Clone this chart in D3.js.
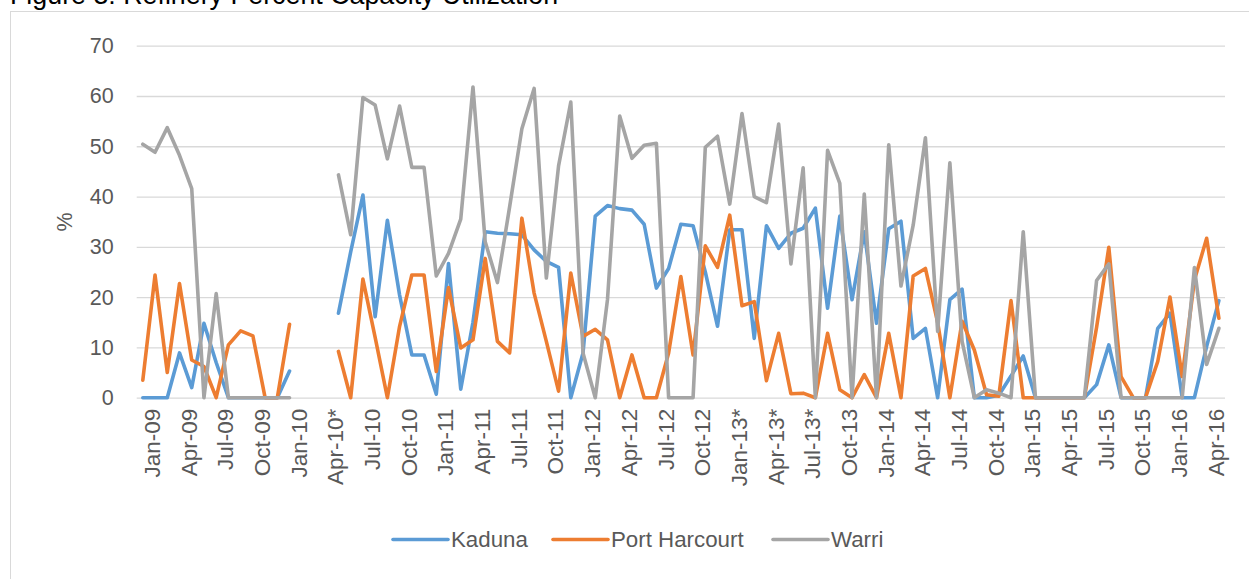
<!DOCTYPE html>
<html>
<head>
<meta charset="utf-8">
<script src="https://cdnjs.cloudflare.com/ajax/libs/d3/7.8.5/d3.min.js"></script>
<style>
  html, body { margin: 0; padding: 0; background: #fff; }
  svg { display: block; }
  text { font-family: "Liberation Sans", Arial, sans-serif; }
</style>
</head>
<body>
<svg id="chart" width="1249" height="579"></svg>
<script>
// ---- data ----
const categories = [
  "Jan-09","Feb-09","Mar-09","Apr-09","May-09","Jun-09","Jul-09","Aug-09","Sep-09","Oct-09","Nov-09","Dec-09",
  "Jan-10","Feb-10","Mar-10","Apr-10*","May-10","Jun-10","Jul-10","Aug-10","Sep-10","Oct-10","Nov-10","Dec-10",
  "Jan-11","Feb-11","Mar-11","Apr-11","May-11","Jun-11","Jul-11","Aug-11","Sep-11","Oct-11","Nov-11","Dec-11",
  "Jan-12","Feb-12","Mar-12","Apr-12","May-12","Jun-12","Jul-12","Aug-12","Sep-12","Oct-12","Nov-12","Dec-12",
  "Jan-13*","Feb-13*","Mar-13*","Apr-13*","May-13*","Jun-13*","Jul-13*","Aug-13","Sep-13","Oct-13","Nov-13","Dec-13",
  "Jan-14","Feb-14","Mar-14","Apr-14","May-14","Jun-14","Jul-14","Aug-14","Sep-14","Oct-14","Nov-14","Dec-14",
  "Jan-15","Feb-15","Mar-15","Apr-15","May-15","Jun-15","Jul-15","Aug-15","Sep-15","Oct-15","Nov-15","Dec-15",
  "Jan-16","Feb-16","Mar-16","Apr-16","May-16"
];

const kaduna = [
  0,0,0,8.9,2.0,14.8,7,0,0,0,0,0,
  5.3,null,null,null,16.8,29,40.3,16.1,35.3,20.4,8.5,8.5,
  0.7,26.7,1.7,15,33.0,32.7,32.6,32.4,29.4,27.1,25.9,0,
  8.9,36.1,38.2,37.6,37.3,34.5,21.8,25.7,34.5,34.2,25,14.2,
  33.4,33.4,11.8,34.2,29.7,32.7,33.7,37.7,17.8,36.1,19.5,33.0,
  14.8,33.6,35.1,11.8,13.8,0,19.5,21.6,0,0,0.5,4.3,
  8.3,0,0,0,0,0,2.6,10.5,0,0,0,13.8,
  16.8,0,0,10.2,19.3
];

const portHarcourt = [
  3.5,24.4,5.0,22.7,7.5,6.2,0,10.5,13.3,12.3,0,0,
  14.6,null,null,null,9.2,0,23.6,12,0,14.2,24.4,24.4,
  5.2,21.9,9.9,11.5,27.7,11.2,8.9,35.7,20.8,11.2,1.3,24.8,
  12.2,13.6,11.5,0,8.5,0,0,8.9,24.1,8.5,30.2,25.9,
  36.3,18.3,19.1,3.4,12.8,0.8,0.9,0,12.8,1.6,0,4.6,
  0,12.8,0,24.2,25.7,15,0,15.2,9.5,0.6,0.3,19.3,
  0,0,0,0,0,0,14,29.9,4.2,0,0,7.2,
  20.0,4.2,23.4,31.7,15.8
];

const warri = [
  50.4,48.8,53.7,48.2,41.6,0,20.7,0,0,0,0,0,
  0,null,null,null,44.3,32.4,59.7,58.2,47.5,58.0,45.8,45.8,
  24.2,28.7,35.5,61.8,31,22.9,38,53.5,61.5,23.8,46.1,58.8,
  8.9,0,19.5,56.0,47.6,50.2,50.6,0,0,0,49.8,52.0,
  38.5,56.5,40.0,38.8,54.4,26.6,45.7,0,49.2,42.6,0,40.5,
  0,50.3,22.2,34.3,51.7,13.2,46.7,11.2,0,1.6,0.9,0,
  33.0,0,0,0,0,0,23.3,26.6,0,0,0,0,
  0,0,25.9,6.6,13.8
];

const seriesNames = ["Kaduna", "Port Harcourt", "Warri"];
const seriesColors = ["#5B9BD5", "#ED7D31", "#A5A5A5"];
const yTicks = [0, 10, 20, 30, 40, 50, 60, 70];
const tickEvery = 3;

// ---- layout ----
const svg = d3.select("#chart");
const W = 1249, H = 579;
const plot = { left: 136.7, right: 1225, top: 45.7, bottom: 397.7 };
const textColor = "#595959";

// chart border
svg.append("rect")
  .attr("x", 10.5).attr("y", 11.5)
  .attr("width", W).attr("height", H)
  .attr("fill", "none").attr("stroke", "#D9D9D9").attr("stroke-width", 1);

// title (cut off at top as in reference)
svg.append("text")
  .attr("x", 10).attr("y", 4)
  .attr("font-size", 26.8)
  .attr("fill", "#000")
  .text("Figure 3: Refinery Percent Capacity Utilization");

const x = d3.scalePoint()
  .domain(d3.range(categories.length))
  .range([plot.left, plot.right])
  .padding(0.5);

const y = d3.scaleLinear()
  .domain([0, 70])
  .range([plot.bottom, plot.top]);

// gridlines + y labels
const yAxis = d3.axisLeft(y)
  .tickValues(yTicks)
  .tickSize(-(plot.right - plot.left))
  .tickPadding(23)
  .tickFormat(d3.format("d"));

const gy = svg.append("g")
  .attr("transform", `translate(${plot.left},0)`)
  .call(yAxis);
gy.select(".domain").remove();
gy.selectAll(".tick line").attr("stroke", "#D9D9D9").attr("stroke-width", 1.3);
gy.selectAll(".tick text")
  .attr("fill", textColor)
  .attr("font-size", 21.5)
  .attr("font-family", "Liberation Sans, Arial, sans-serif");

// y axis title
svg.append("text")
  .attr("transform", `translate(72,222) rotate(-90)`)
  .attr("text-anchor", "middle")
  .attr("fill", textColor)
  .attr("font-size", 21.5)
  .text("%");

// x axis labels
const xAxis = d3.axisBottom(x)
  .tickValues(d3.range(0, categories.length, tickEvery))
  .tickSize(0)
  .tickFormat(i => categories[i]);

const gx = svg.append("g")
  .attr("transform", `translate(0,${plot.bottom})`)
  .call(xAxis);
gx.select(".domain").remove();
gx.selectAll(".tick text")
  .attr("fill", textColor)
  .attr("font-size", 22.5)
  .attr("font-family", "Liberation Sans, Arial, sans-serif")
  .attr("text-anchor", "end")
  .attr("transform", "translate(0,11) rotate(-90)")
  .attr("x", 0)
  .attr("y", 0)
  .attr("dy", "0.74em")
  .attr("dx", 0);

// lines
const line = d3.line()
  .defined(d => d != null)
  .x((d, i) => x(i))
  .y(d => y(d));

const allSeries = [kaduna, portHarcourt, warri];
svg.append("g").selectAll("path")
  .data(allSeries)
  .join("path")
  .attr("d", d => line(d))
  .attr("fill", "none")
  .attr("stroke", (d, i) => seriesColors[i])
  .attr("stroke-width", 3.6)
  .attr("stroke-linejoin", "round")
  .attr("stroke-linecap", "round");

// legend
const legendX = [393, 553, 773];
const legendY = 539.5;
const lg = svg.append("g");
seriesNames.forEach((name, i) => {
  lg.append("line")
    .attr("x1", legendX[i]).attr("x2", legendX[i] + 55)
    .attr("y1", legendY).attr("y2", legendY)
    .attr("stroke", seriesColors[i])
    .attr("stroke-width", 3.6)
    .attr("stroke-linecap", "round");
  lg.append("text")
    .attr("x", legendX[i] + 58)
    .attr("y", legendY)
    .attr("dy", "0.35em")
    .attr("fill", textColor)
    .attr("font-size", 22.3)
    .text(name);
});
</script>
</body>
</html>
